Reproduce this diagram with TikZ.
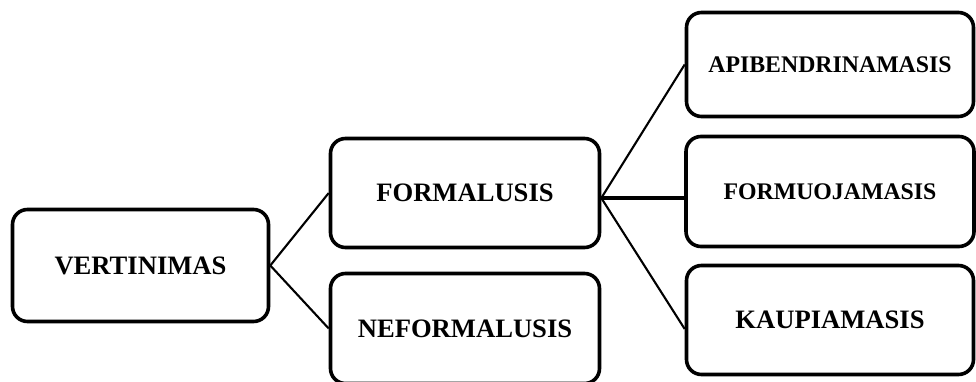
\documentclass[tikz,border=0pt]{standalone}
\usepackage{fontspec}
\setmainfont{Liberation Serif}
\usepackage{tikz}

\tikzset{
	box/.style={shape=rectangle, rounded corners=15pt, draw=black, line width=3.6pt, inner sep=0pt, font=\bfseries\fontsize{26.6}{30}\selectfont},
	smallbox/.style={box, font=\bfseries\fontsize{23.8}{28}\selectfont}
}

\begin{document}
\begin{tikzpicture}[x=1pt, y=1pt]
	
	\useasboundingbox (0, 0) rectangle (976, 381);
	
	\node[box, minimum width=256pt, minimum height=112pt] (vertinimas) at (140.5, 115.5)     {VERTINIMAS};
	\node[box, minimum width=269pt, minimum height=109pt] (formalusis) at (465, 188)     {FORMALUSIS};
	\node[box, minimum width=269pt, minimum height=110pt] (neformalusis) at (465, 52.5)     {NEFORMALUSIS};
	\node[smallbox, minimum width=287pt, minimum height=104pt] (apibendrinamasis) at (830, 316.5)     {APIBENDRINAMASIS};
	\node[smallbox, minimum width=288pt, minimum height=110pt] (formuojamasis) at (830, 189.5)     {FORMUOJAMASIS};
	\node[box, minimum width=287pt, minimum height=109pt] (kaupiamasis) at (830, 61)     {KAUPIAMASIS};
	
	\coordinate (hub) at ([yshift=-5pt]formalusis.east);
	
	\path[-, line width=2.1pt] (vertinimas.east) edge (formalusis.west);
	\path[-, line width=2.1pt] (vertinimas.east) edge (neformalusis.west);
	
	\path[-, line width=2.1pt] (hub) edge (apibendrinamasis.west);
	\path[-, line width=3.6pt] (hub) edge (hub -| formuojamasis.west);
	\path[-, line width=2.1pt] (hub) edge ([yshift=-9pt]kaupiamasis.west);
	
\end{tikzpicture}
\end{document}
